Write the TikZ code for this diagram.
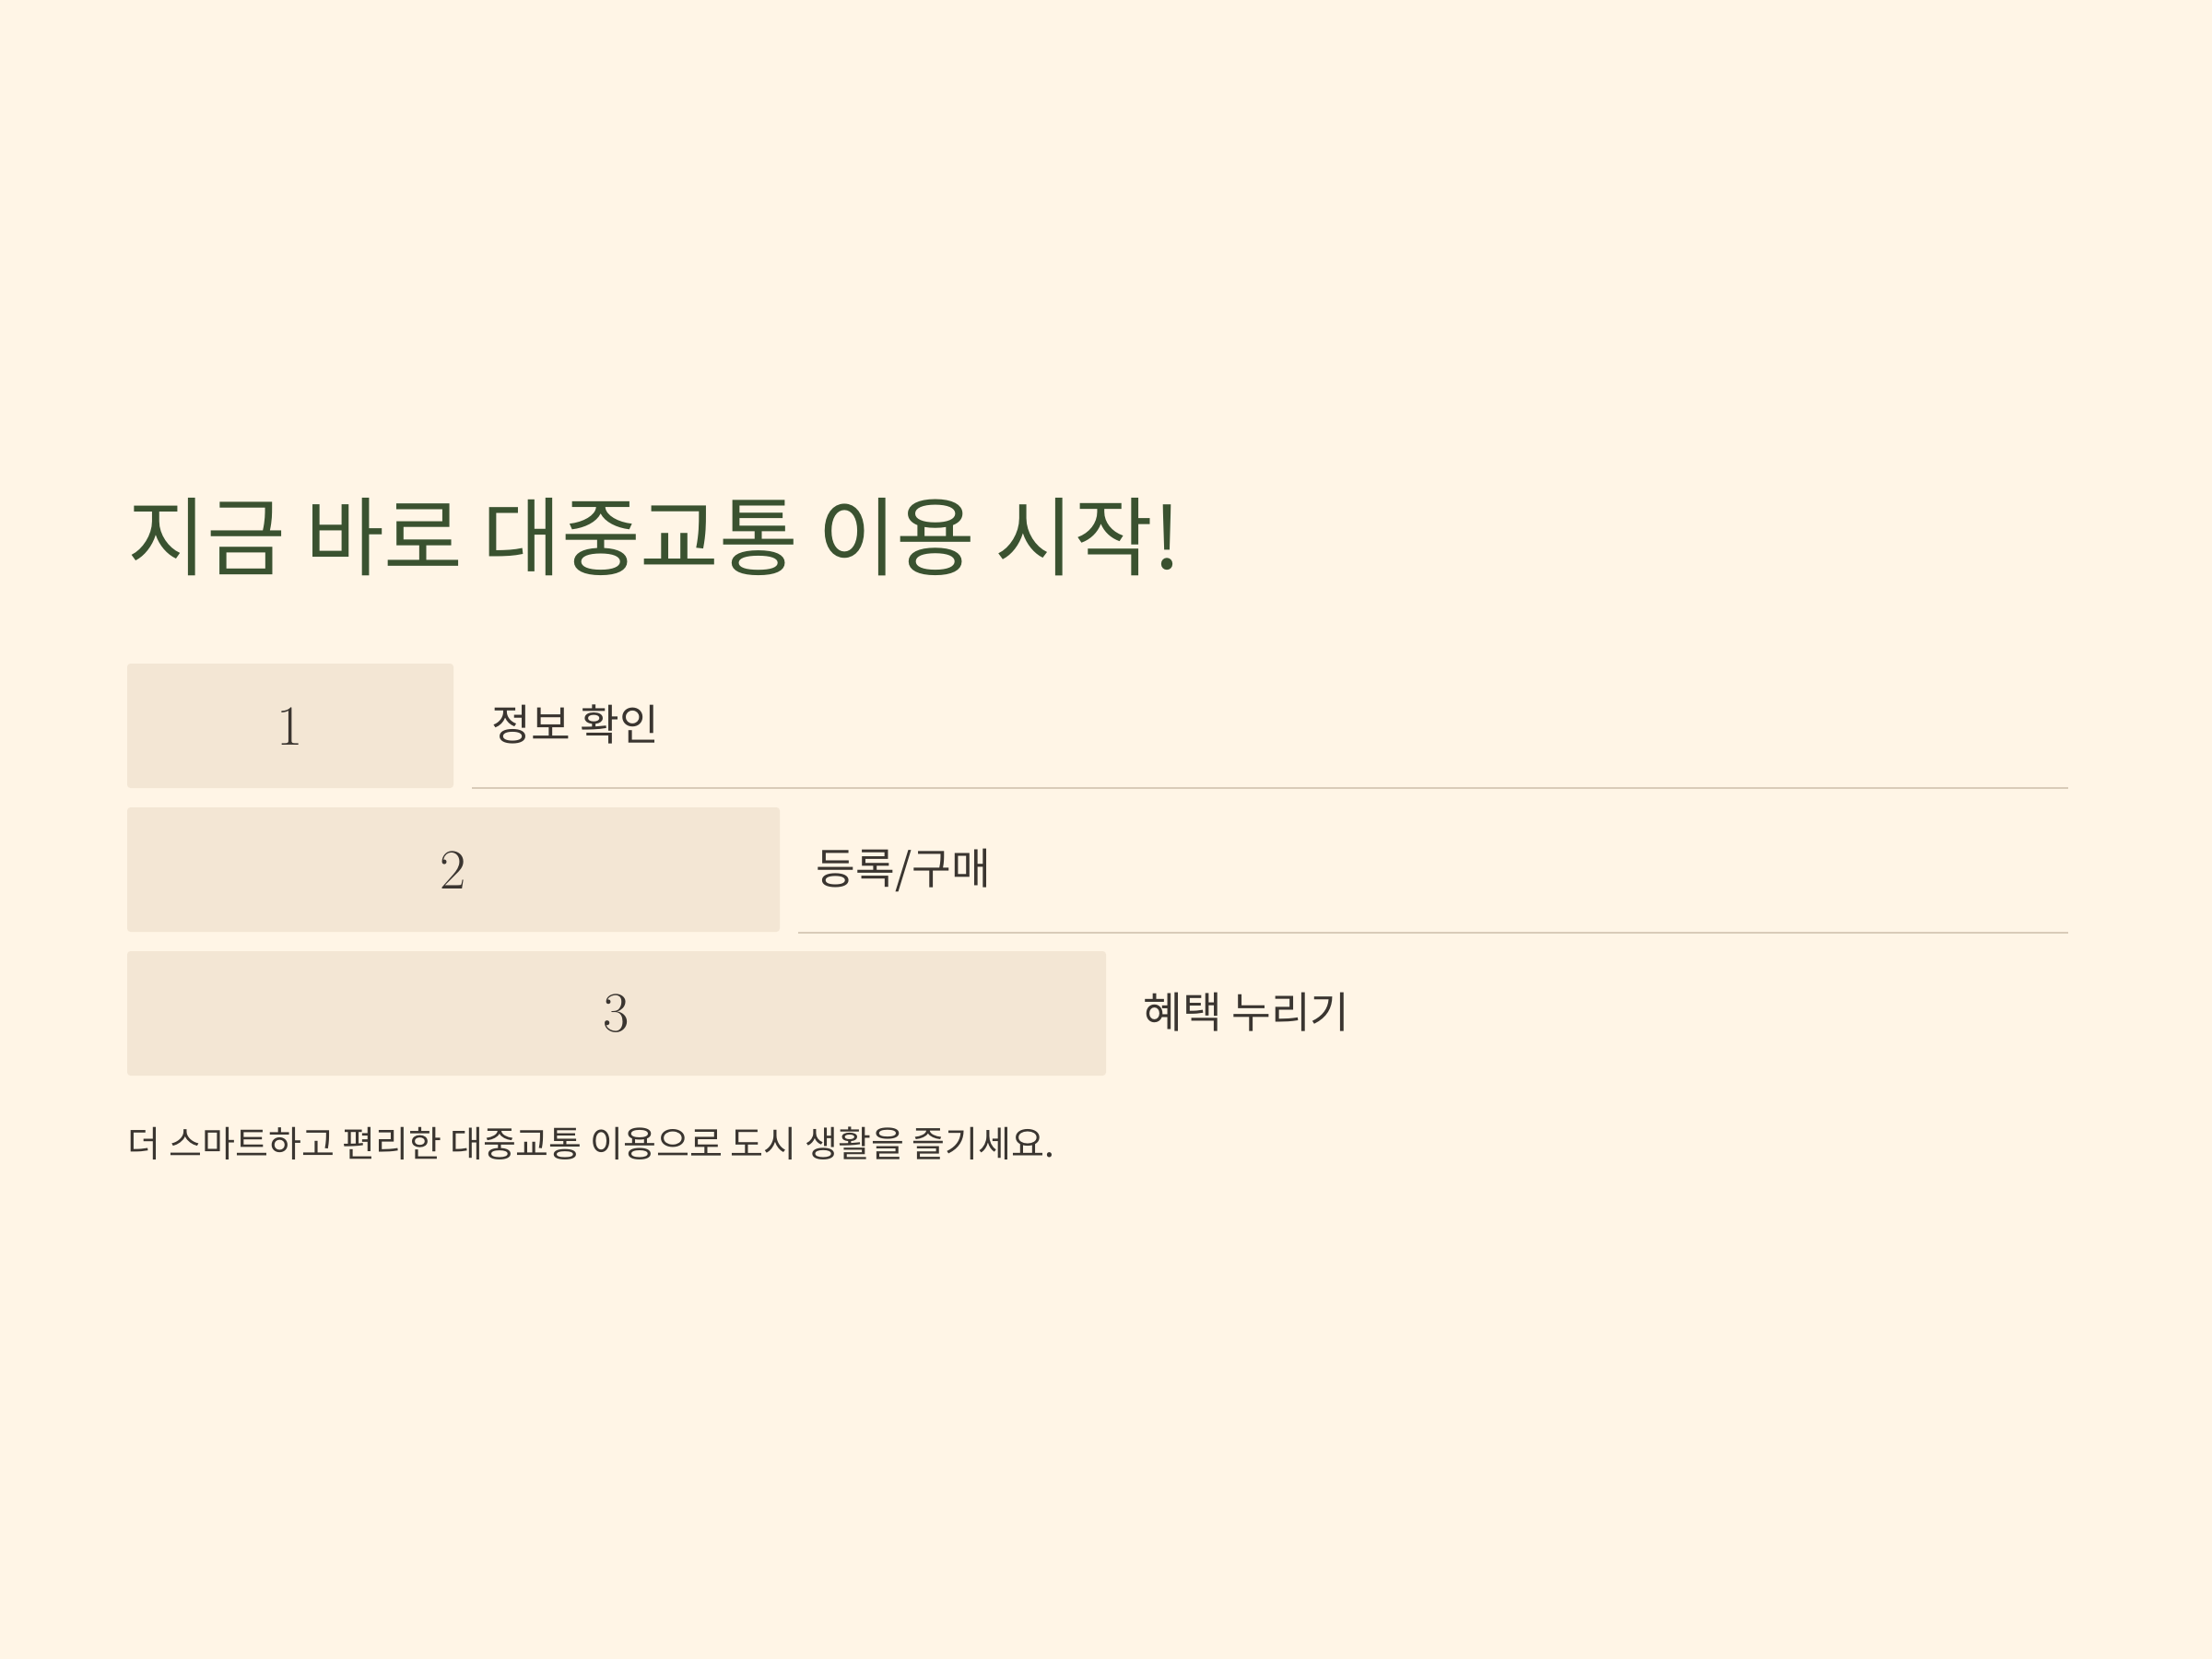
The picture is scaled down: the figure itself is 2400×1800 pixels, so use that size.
\documentclass[tikz,border=0pt]{standalone}
\usepackage{fontspec}
\newfontfamily\kr{Noto Sans CJK KR}
\definecolor{bg}{HTML}{FFF5E6}
\definecolor{boxfill}{HTML}{F3E6D4}
\definecolor{rule}{HTML}{D9CBB8}
\definecolor{titlegreen}{HTML}{3A5230}
\definecolor{ink}{HTML}{3A3530}
\tikzset{
  stepbox/.style={fill=boxfill, draw=none, rounded corners=1pt},
  num/.style={text=ink, font=\fontsize{17.5}{20}\selectfont, inner sep=0pt},
  lbl/.style={text=ink, font=\kr\fontsize{13.2}{16}\selectfont, inner sep=0pt, anchor=base west},
  sep/.style={draw=rule, line width=0.6pt},
}
\begin{document}
\begin{tikzpicture}[x=0.01cm,y=-0.01cm]
\fill[bg] (0,0) rectangle (2400,1800);
\useasboundingbox (0,0) rectangle (2400,1800);

\node[anchor=base west, inner sep=0pt, text=titlegreen, font=\kr\fontsize{26.5}{32}\selectfont] (title) at (138,617) {지금 바로 대중교통 이용 시작!};

\fill[stepbox] (138,720) rectangle (492,855);
\node[num] (n1) at (315,788) {1};
\node[lbl] (l1) at (533,803) {정보 확인};
\coordinate (r1a) at (512,855);
\coordinate (r1b) at (2244,855);
\draw[sep] (r1a) -- (r1b);

\fill[stepbox] (138,876) rectangle (846,1011);
\node[num] (n2) at (492,944) {2};
\node[lbl] (l2) at (885,959) {등록/구매};
\coordinate (r2a) at (866,1012);
\coordinate (r2b) at (2244,1012);
\draw[sep] (r2a) -- (r2b);

\fill[stepbox] (138,1032) rectangle (1200,1167);
\node[num] (n3) at (669,1100) {3};
\node[lbl] (l3) at (1240,1115) {혜택 누리기};

\node[anchor=base west, inner sep=0pt, text=ink, font=\kr\fontsize{11.1}{13}\selectfont] (foot) at (138,1255) {더 스마트하고 편리한 대중교통 이용으로 도시 생활을 즐기세요.};
\end{tikzpicture}
\end{document}
